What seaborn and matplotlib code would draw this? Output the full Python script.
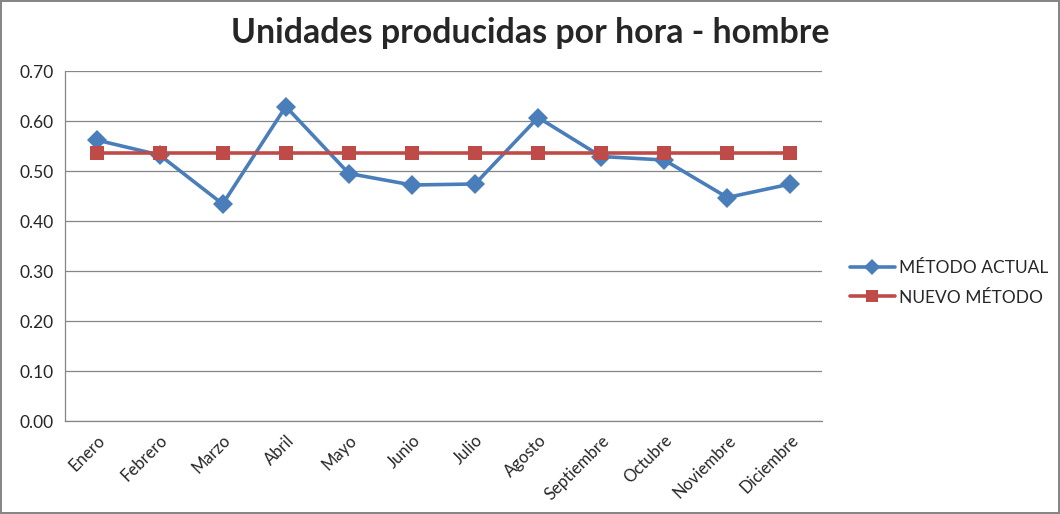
import matplotlib
matplotlib.use("Agg")
import matplotlib.pyplot as plt
import seaborn as sns
import pandas as pd
from matplotlib.lines import Line2D

meses = ["Enero", "Febrero", "Marzo", "Abril", "Mayo", "Junio", "Julio",
         "Agosto", "Septiembre", "Octubre", "Noviembre", "Diciembre"]
metodo_actual = [0.562, 0.532, 0.434, 0.629, 0.495, 0.472, 0.474,
                 0.607, 0.529, 0.522, 0.447, 0.474]
nuevo_metodo = [0.537] * 12
series = ["MÉTODO ACTUAL", "NUEVO MÉTODO"]
colores = ["#4A7EBB", "#BE4B48"]
marcadores = ["D", "s"]

df = pd.DataFrame({
    "mes": meses * 2,
    "valor": metodo_actual + nuevo_metodo,
    "serie": [series[0]] * 12 + [series[1]] * 12,
})
df["x"] = list(range(12)) * 2

sns.set_style("white")
plt.rcParams["font.family"] = ["Lato", "DejaVu Sans"]

fig = plt.figure(figsize=(10.6, 5.14), dpi=100)
fig.patch.set_edgecolor("#868686")
fig.patch.set_linewidth(1.5)
ax = fig.add_axes([65 / 1060, 1 - 421 / 514, (822 - 65) / 1060, 350 / 514])

sns.lineplot(data=df, x="x", y="valor", hue="serie", style="serie",
             palette=colores, markers=marcadores, dashes=False,
             linewidth=2.6, markersize=10.5, markeredgewidth=0, ax=ax,
             legend=False)

ax.set_xlim(-0.5, 11.5)
ax.set_ylim(0, 0.70)
ax.set_yticks([i / 10 for i in range(8)])
ax.set_yticklabels([f"{i / 10:.2f}" for i in range(8)], fontsize=12.5)
ax.set_xticks(range(12))
ax.set_xticklabels(meses, rotation=45, ha="right", rotation_mode="anchor",
                   fontsize=12)
ax.tick_params(axis="both", length=0, pad=8)
ax.set_xlabel("")
ax.set_ylabel("")
ax.grid(axis="y", color="#868686", linewidth=0.9)
for side in ["top", "right"]:
    ax.spines[side].set_visible(False)
for side in ["left", "bottom"]:
    ax.spines[side].set_color("#868686")
    ax.spines[side].set_linewidth(0.9)

handles = [Line2D([], [], color=c, marker=m, linewidth=2.6, markersize=8,
                  markeredgewidth=0) for c, m in zip(colores, marcadores)]
fig.legend(handles, series, loc="center left",
           bbox_to_anchor=(834 / 1060, 1 - 283 / 514), frameon=False,
           fontsize=12.5, handlelength=2.6, handletextpad=0.25,
           labelspacing=0.75)

fig.suptitle("Unidades producidas por hora - hombre", x=530 / 1060,
             y=1 - 33 / 514, va="center", fontsize=24.4, fontweight="bold")

fig.savefig("out.png", dpi=100)
